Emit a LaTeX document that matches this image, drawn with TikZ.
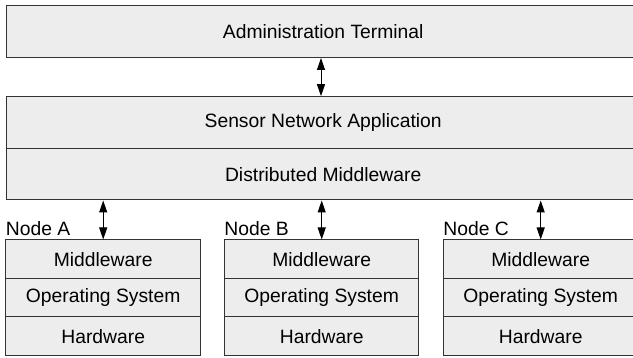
\documentclass[tikz,border=0pt]{standalone}
\usepackage{fontspec}
\setmainfont{Liberation Sans}
\usetikzlibrary{arrows.meta}
\begin{document}
\begin{tikzpicture}[x=1pt,y=-1pt,
  layer/.style={draw=black!80, line width=1pt, fill=black!7, inner sep=0pt,
    font=\fontsize{19.3}{22}\selectfont},
  lbl/.style={inner sep=0pt, anchor=base west, font=\fontsize{19.3}{22}\selectfont},
  link/.style={{Triangle[length=12pt,width=8pt]}-{Triangle[length=12pt,width=8pt]}, line width=1pt}]
\clip (0,0) rectangle (633,358);
% top layers
\node[layer, minimum width=634pt, minimum height=52pt] (adm) at (323.2,31.5) {Administration Terminal};
\node[layer, minimum width=634pt, minimum height=52.3pt] (sna) at (323.2,122.85) {Sensor Network Application};
\node[layer, minimum width=634pt, minimum height=51pt] (dm) at (323.2,174.5) {Distributed Middleware};
% node stacks
\foreach \n/\cx in {A/103.2, B/321.7, C/540.7} {
  \node[layer, minimum width=194.5pt, minimum height=39pt] (mw\n) at (\cx,259.5) {Middleware};
  \node[layer, minimum width=194.5pt, minimum height=38pt] (os\n) at (\cx,298) {Operating System};
  \node[layer, minimum width=194.5pt, minimum height=39pt] (hw\n) at (\cx,336.5) {Hardware};
  \node[lbl] (lbl\n) at ([xshift=0.3pt, yshift=3.5pt]mw\n.north west) {Node \n};
}
% connectors
\draw[link] (adm.south -| 321,0) -- (sna.north -| 321,0);
\draw[link] (dm.south -| mwA.north) -- (mwA.north);
\draw[link] (dm.south -| mwB.north) -- (mwB.north);
\draw[link] (dm.south -| mwC.north) -- (mwC.north);
\end{tikzpicture}
\end{document}
